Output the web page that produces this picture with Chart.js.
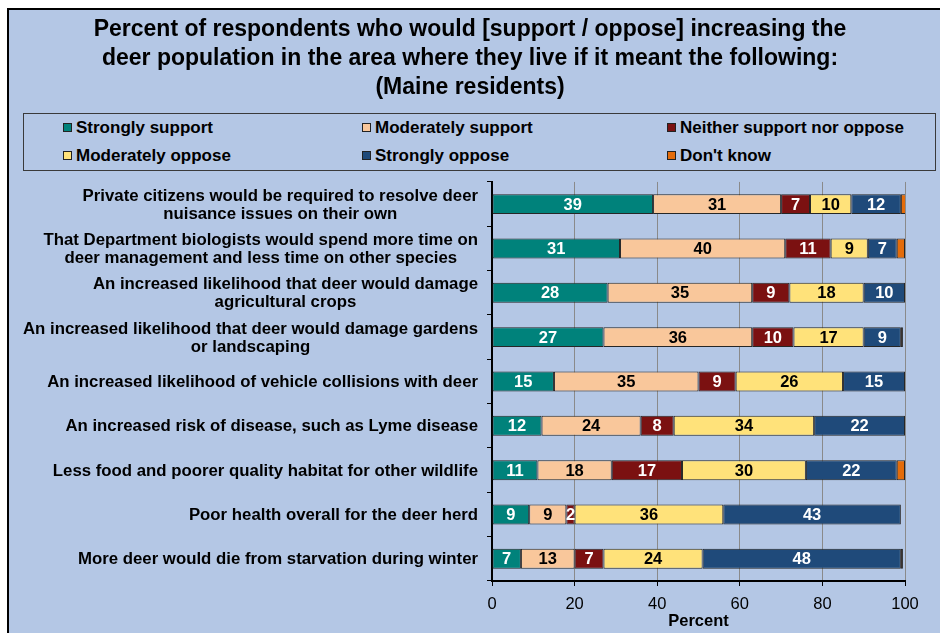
<!DOCTYPE html>
<html lang="en">
<head>
<meta charset="UTF-8">
<title>Deer population - Maine residents</title>
<script src="https://cdn.jsdelivr.net/npm/chart.js"></script>
<style>
  body { margin: 0; background: #fff; width: 940px; height: 633px; overflow: hidden; position: relative;
         font-family: "Liberation Sans", Arial, sans-serif; }
  #frame { position: absolute; left: 7px; top: 8px; width: 960px; height: 660px;
           border: 2px solid #000; background: #B4C7E5; }
  #legend { position: absolute; left: 23px; top: 113px; width: 911px; height: 56px; border: 1px solid #3a3a3a; }
  .item { position: absolute; font-weight: bold; font-size: 17px; line-height: 20px; white-space: nowrap; color: #000; }
  .item .box { display: inline-block; width: 7px; height: 7px; border: 1px solid #222; margin-right: 4px;
               vertical-align: 1px; }
  canvas { position: absolute; left: 0; top: 0; }
</style>
</head>
<body>
<div id="frame"></div>
<div id="legend"></div>
<canvas id="chart" width="940" height="633"></canvas>

<script>
// data
const categories = [
  ['Private citizens would be required to resolve deer', 'nuisance issues on their own'],
  ['That Department biologists would spend more time on', 'deer management and less time on other species'],
  ['An increased likelihood that deer would damage', 'agricultural crops'],
  ['An increased likelihood that deer would damage gardens', 'or landscaping'],
  ['An increased likelihood of vehicle collisions with deer'],
  ['An increased risk of disease, such as Lyme disease'],
  ['Less food and poorer quality habitat for other wildlife'],
  ['Poor health overall for the deer herd'],
  ['More deer would die from starvation during winter']
];
const seriesNames = ['Strongly support', 'Moderately support', 'Neither support nor oppose',
                     'Moderately oppose', 'Strongly oppose', "Don't know"];
const stronglySupport   = [39, 31, 28, 27, 15, 12, 11, 9, 7];
const moderatelySupport = [31, 40, 35, 36, 35, 24, 18, 9, 13];
const neither           = [7, 11, 9, 10, 9, 8, 17, 2, 7];
const moderatelyOppose  = [10, 9, 18, 17, 26, 34, 30, 36, 24];
const stronglyOppose    = [12, 7, 10, 9, 15, 22, 22, 43, 48];
const dontKnow          = [1.5, 2, 0.3, 0.5, 0.4, 0.4, 2, 0, 0.5];
const xTicks = [0, 20, 40, 60, 80, 100];

const colors = ['#00827B', '#F9C79B', '#7B1111', '#FFE27A', '#1F4A7A', '#E46C0A'];
const labelColors = ['#fff', '#000', '#fff', '#000', '#fff', null];
const FONT = '"Liberation Sans", Arial, sans-serif';

Chart.defaults.font.family = FONT;
Chart.defaults.color = '#000';

// legend (html, two rows of three)
const legendEl = document.getElementById('legend');
const colX = [39, 338, 643];
const rowY = [4, 32];
seriesNames.forEach((name, i) => {
  const d = document.createElement('div');
  d.className = 'item';
  d.style.left = colX[i % 3] + 'px';
  d.style.top = rowY[Math.floor(i / 3)] + 'px';
  d.innerHTML = '<span class="box" style="background:' + colors[i] + '"></span>' + name;
  legendEl.appendChild(d);
});

// numbers inside the bars
const barLabels = {
  id: 'barLabels',
  afterDatasetsDraw(chart) {
    const ctx = chart.ctx;
    ctx.save();
    ctx.font = 'bold 16.5px ' + FONT;
    ctx.textAlign = 'center';
    ctx.textBaseline = 'middle';
    chart.data.datasets.forEach((ds, di) => {
      if (!labelColors[di]) return;
      ctx.fillStyle = labelColors[di];
      chart.getDatasetMeta(di).data.forEach((el, i) => {
        const v = ds.data[i];
        if (!v) return;
        const p = el.getProps(['x', 'y', 'base'], true);
        ctx.fillText(String(Math.round(v)), (p.x + p.base) / 2, p.y + 1);
      });
    });
    ctx.restore();
  }
};

// category labels: block right aligned, lines centred inside the block
const categoryLabels = {
  id: 'categoryLabels',
  afterDraw(chart) {
    const ctx = chart.ctx;
    const scale = chart.scales.y;
    const lineH = 18;
    ctx.save();
    ctx.font = 'bold 16.8px ' + FONT;
    ctx.fillStyle = '#000';
    ctx.textAlign = 'center';
    ctx.textBaseline = 'middle';
    categories.forEach((lines, i) => {
      const w = Math.max(...lines.map(l => ctx.measureText(l).width));
      const cx = scale.right - 14 - w / 2;
      const y0 = scale.getPixelForTick(i) - (lines.length - 1) * lineH / 2 + 1;
      lines.forEach((l, j) => ctx.fillText(l, cx, y0 + j * lineH));
    });
    ctx.restore();
  }
};

const values = [stronglySupport, moderatelySupport, neither, moderatelyOppose, stronglyOppose, dontKnow];

new Chart(document.getElementById('chart'), {
  type: 'bar',
  data: {
    labels: categories,
    datasets: values.map((v, i) => ({
      label: seriesNames[i],
      data: v,
      backgroundColor: colors[i],
      borderColor: '#262626',
      borderWidth: 1,
      borderSkipped: false,
      barPercentage: 0.45,
      categoryPercentage: 1
    }))
  },
  options: {
    indexAxis: 'y',
    responsive: false,
    animation: false,
    layout: { padding: 0 },
    plugins: {
      legend: { display: false },
      tooltip: { enabled: false },
      title: {
        display: true,
        text: ['Percent of respondents who would [support / oppose] increasing the',
               'deer population in the area where they live if it meant the following:',
               '(Maine residents)'],
        font: { size: 23, weight: 'bold', lineHeight: 1.26 },
        color: '#000',
        padding: { top: 15.5, bottom: 79.5 }
      }
    },
    scales: {
      x: {
        stacked: true,
        min: 0,
        max: 100,
        afterBuildTicks: s => { s.ticks = xTicks.map(v => ({ value: v })); },
        afterFit: s => { s.height = 52; },
        grid: { color: '#8a8a8a', lineWidth: 1, tickColor: '#000', tickLength: 5 },
        border: { color: '#000', width: 2 },
        ticks: { font: { size: 16.5 }, color: '#000', padding: 9, maxRotation: 0 },
        title: { display: true, text: 'Percent', font: { size: 16.5, weight: 'bold', lineHeight: 1.2 },
                 color: '#000', padding: { top: 0, bottom: 2 } }
      },
      y: {
        stacked: true,
        afterFit: s => { s.width = 492; },
        grid: { drawOnChartArea: false, drawTicks: true, tickLength: 5, tickColor: '#000', offset: true },
        border: { color: '#000', width: 2 },
        ticks: { display: false, autoSkip: false }
      },
      // empty right-hand axis, only reserves the margin so the title stays centred on the page
      yRight: {
        axis: 'y',
        type: 'category',
        position: 'right',
        afterFit: s => { s.width = 35; },
        grid: { display: false },
        border: { display: false },
        ticks: { display: false }
      }
    }
  },
  plugins: [barLabels, categoryLabels]
});
</script>
</body>
</html>
